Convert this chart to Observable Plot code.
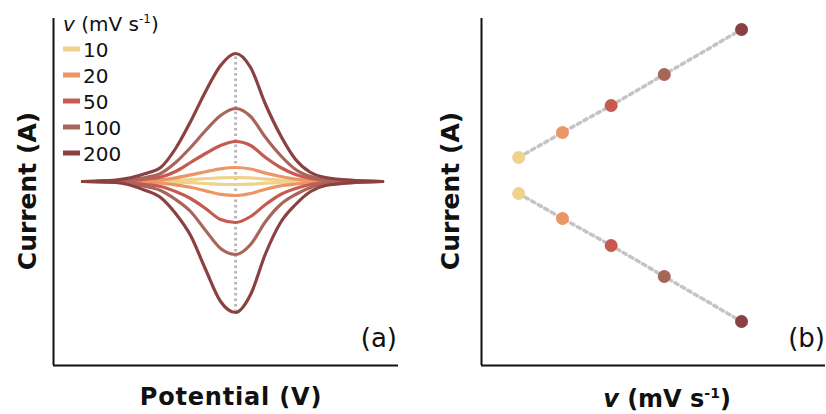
<!DOCTYPE html>
<html><head><meta charset="utf-8">
<script src="https://cdn.jsdelivr.net/npm/d3@7"></script>
<script src="https://cdn.jsdelivr.net/npm/@observablehq/plot@0.6"></script>
<style>
html,body{margin:0;padding:0;background:#fff;}
#wrap{display:flex;width:826px;height:414px;overflow:hidden;}
#wrap svg{display:block;background:#fff;}
</style></head><body><div id="wrap"></div>
<script>
// ---- data ----
const rates = ["10", "20", "50", "100", "200"];           // scan rate v (mV s-1)
const colors = ["#EFD38C", "#EC9566", "#C65A51", "#A8665A", "#8B4141"];
// panel (a): potential samples (V, relative to E0) and anodic / cathodic branches
const potential = [-0.51, -0.40, -0.30, -0.25, -0.20, -0.15, -0.10, -0.05, 0, 0.05, 0.10, 0.15, 0.20, 0.25, 0.30, 0.40, 0.49];
const up10  = [0, 0, 0.2, 0.4, 1, 1.9, 2.8, 3.6, 4, 3.6, 2.4, 1.4, 0.7, 0.3, 0.1, 0, 0];
const dn10  = [0, 0, -0.2, -0.4, -0.7, -1.2, -2, -2.8, -3, -2.6, -1.7, -0.9, -0.5, -0.2, -0.1, 0, 0];
const up20  = [0, 0.2, 0.8, 1.5, 3.6, 6.6, 9.8, 12.7, 14, 12.5, 8.4, 5, 2.4, 1, 0.4, 0.1, 0];
const dn20  = [0, -0.1, -1, -1.7, -3.4, -5.7, -9.4, -12.9, -14, -12, -7.7, -4.3, -2.5, -1.1, -0.4, -0.1, 0];
const up50  = [0, 0.5, 2.4, 4.4, 10, 19, 28, 36, 40, 36, 24, 14, 7, 3, 1.2, 0.3, 0];
const dn50  = [0, -0.3, -3, -5, -10, -17, -27, -38, -41, -35, -23, -13, -7, -3, -1.2, -0.3, 0];
const up100 = [0, 1, 4, 8, 19, 34, 51, 66, 73, 65, 44, 26, 12, 5, 2, 0.6, 0];
const dn100 = [0, -0.6, -5, -9, -18, -30, -49, -67, -73, -63, -40, -23, -13, -6, -2, -0.6, 0];
const up200 = [0, 1.5, 8, 14, 33, 60, 90, 116, 128, 114, 77, 46, 22, 9, 4, 1, 0];
const dn200 = [0, -1, -9, -16, -32, -54, -88, -120, -131, -113, -72, -41, -23, -10, -4, -1, 0];
// panel (b): position of each rate along the (schematic) v axis and peak currents
const vAxisPos = [1, 2.18, 3.49, 4.92, 7];
const ipa = [18, 43, 70, 101, 146];
const ipc = [-18, -43, -70, -101, -146];

const ups = [up10, up20, up50, up100, up200];
const dns = [dn10, dn20, dn50, dn100, dn200];

const FONT = "DejaVu Sans, sans-serif";
const wrap = document.getElementById("wrap");

// ---- panel (a) ----
const rows = [];
rates.forEach((r, i) => {
  ups[i].forEach((c, j) => rows.push({rate: r, branch: "up", E: potential[j], I: c}));
  dns[i].forEach((c, j) => rows.push({rate: r, branch: "dn", E: potential[j], I: c}));
});
const xA = [-0.607, 0.543], yA = [-184, 163];
const left = Plot.plot({
  width: 420, height: 414,
  marginLeft: 53, marginRight: 22, marginTop: 18, marginBottom: 49,
  x: {domain: xA, axis: null},
  y: {domain: yA, axis: null},
  color: {domain: rates, range: colors},
  marks: [
    Plot.ruleX([0], {y1: d3.min(dn200), y2: d3.max(up200), stroke: "#b8b8b8", strokeWidth: 3, strokeDasharray: "2.5,3"}),
    Plot.line(rows, {x: "E", y: "I", z: d => d.rate + d.branch, stroke: "rate", strokeWidth: 3.2, curve: "monotone-x", strokeLinecap: "round", strokeLinejoin: "round"}),
    Plot.ruleX([xA[0]], {stroke: "#111", strokeWidth: 2}),
    Plot.ruleY([yA[0]], {stroke: "#111", strokeWidth: 2})
  ]
});
wrap.appendChild(left);

// ---- panel (b) ----
const pts = rates.map((r, i) => ({rate: r, x: vAxisPos[i], up: ipa[i], dn: ipc[i]}));
const xB = [0, 9.26], yB = [-190, 157];
const right = Plot.plot({
  width: 406, height: 414,
  marginLeft: 61, marginRight: 1, marginTop: 18, marginBottom: 49,
  x: {domain: xB, axis: null},
  y: {domain: yB, axis: null},
  color: {domain: rates, range: colors},
  marks: [
    Plot.line(pts, {x: "x", y: "up", stroke: "#c4c4c4", strokeWidth: 3.5, strokeDasharray: "3.5,4"}),
    Plot.line(pts, {x: "x", y: "dn", stroke: "#c4c4c4", strokeWidth: 3.5, strokeDasharray: "3.5,4"}),
    Plot.dot(pts, {x: "x", y: "up", r: 6.5, fill: "rate"}),
    Plot.dot(pts, {x: "x", y: "dn", r: 6.5, fill: "rate"}),
    Plot.ruleX([xB[0]], {stroke: "#111", strokeWidth: 2}),
    Plot.ruleY([yB[0]], {stroke: "#111", strokeWidth: 2})
  ]
});
wrap.appendChild(right);

// ---- labels ----
function vLabel(g, x, y, size, weight, anchor) {
  const t = g.append("text").attr("x", x).attr("y", y).attr("text-anchor", anchor)
    .attr("font-family", FONT).attr("font-size", size).attr("font-weight", weight).attr("fill", "#111");
  t.append("tspan").attr("font-style", "italic").text("v");
  t.append("tspan").text(" (mV s");
  t.append("tspan").attr("font-size", Math.round(size * 0.6)).attr("dy", -size * 0.38).text("-1");
  t.append("tspan").attr("dy", size * 0.38).text(")");
  return t;
}
function yLabel(g, x, y) {
  g.append("text").attr("transform", `translate(${x},${y}) rotate(-90)`)
    .attr("text-anchor", "middle").attr("dominant-baseline", "central")
    .attr("font-family", FONT).attr("font-size", 25).attr("font-weight", "bold").attr("fill", "#111")
    .text("Current (A)");
}
const gL = d3.select(left).append("g");
yLabel(gL, 27, 191);
gL.append("text").attr("x", 231).attr("y", 405).attr("text-anchor", "middle")
  .attr("font-family", FONT).attr("font-size", 24).attr("font-weight", "bold").attr("fill", "#111")
  .attr("letter-spacing", 0.8).text("Potential (V)");
gL.append("text").attr("x", 397).attr("y", 347).attr("text-anchor", "end")
  .attr("font-family", FONT).attr("font-size", 26).attr("fill", "#111").text("(a)");
vLabel(gL, 63, 31, 20, "normal", "start");
rates.forEach((r, i) => {
  const yy = 49 + i * 26;
  gL.append("rect").attr("x", 63).attr("y", yy - 2.5).attr("width", 17).attr("height", 5).attr("fill", colors[i]);
  gL.append("text").attr("x", 83).attr("y", yy + 7.5).attr("text-anchor", "start")
    .attr("font-family", FONT).attr("font-size", 20).attr("fill", "#111").text(r);
});

const gR = d3.select(right).append("g");
yLabel(gR, 30, 191);
vLabel(gR, 247, 407, 24, "bold", "middle");
gR.append("text").attr("x", 405).attr("y", 347).attr("text-anchor", "end")
  .attr("font-family", FONT).attr("font-size", 26).attr("fill", "#111").text("(b)");
</script>
</body></html>
